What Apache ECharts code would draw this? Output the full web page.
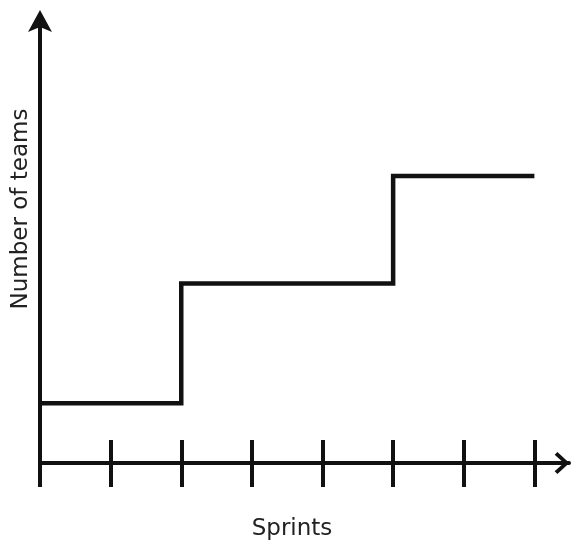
<!DOCTYPE html>
<html>
<head>
<meta charset="utf-8">
<script src="https://cdn.jsdelivr.net/npm/echarts@6/dist/echarts.min.js"></script>
<style>
html,body{margin:0;padding:0;background:#fff;}
#chart{width:572px;height:545px;}
</style>
</head>
<body>
<div id="chart"></div>
<script>
// Data
var sprints = [0, 2, 5, 7];           // x positions where the level changes (and end)
var teams = [1, 3, 4.8, 4.8];         // number of teams (relative levels)
var tickValuesAbove = [1, 2, 3, 4, 5, 6, 7];
var tickValuesBelow = [0, 1, 2, 3, 4, 5, 6, 7];
var xTitle = 'Sprints';
var yTitle = 'Number of teams';

var ink = '#111';
var chevron = 'path://M0,13 L12,0 L24,13 L21,16 L12,6 L3,16 Z';
var solidArrow = 'path://M12,0 L24,22 L12,17 L0,22 Z';

var chart = echarts.init(document.getElementById('chart'), null, {renderer: 'canvas'});
var xCommon = {
  type: 'value', min: 0, max: 7.49, position: 'bottom',
  axisLabel: {show: false}, splitLine: {show: false}
};
chart.setOption({
  animation: false,
  backgroundColor: '#fff',
  grid: {left: 40, right: 3, top: 21, bottom: 82, containLabel: false},
  xAxis: [
    Object.assign({}, xCommon, {
      axisLine: {show: true, lineStyle: {color: ink, width: 4},
        symbol: ['none', chevron], symbolSize: [22, 15], symbolOffset: [0, -7]},
      axisTick: {show: true, inside: true, length: 23, customValues: tickValuesAbove,
        lineStyle: {color: ink, width: 4}}
    }),
    Object.assign({}, xCommon, {
      axisLine: {show: false},
      axisTick: {show: true, inside: false, length: 24, customValues: tickValuesBelow,
        lineStyle: {color: ink, width: 4}}
    })
  ],
  yAxis: {
    type: 'value', min: 0, max: 7.39,
    axisLine: {show: true, lineStyle: {color: ink, width: 4},
      symbol: ['none', solidArrow], symbolSize: [25, 22], symbolOffset: [0, 0]},
    axisTick: {show: false}, axisLabel: {show: false}, splitLine: {show: false}
  },
  series: [{
    type: 'line', step: 'end', xAxisIndex: 0, yAxisIndex: 0,
    data: sprints.map(function (s, i) { return [s, teams[i]]; }),
    symbol: 'none', clip: false,
    lineStyle: {color: ink, width: 4.5, join: 'miter', cap: 'butt'}
  }],
  graphic: [
    {type: 'text', x: 292, y: 529, style: {text: xTitle, fontFamily: 'DejaVu Sans', fontSize: 23,
      fill: '#222', textAlign: 'center', textVerticalAlign: 'middle'}},
    {type: 'text', x: 21, y: 209, rotation: Math.PI / 2, style: {text: yTitle, fontFamily: 'DejaVu Sans', fontSize: 23,
      fill: '#222', textAlign: 'center', textVerticalAlign: 'middle'}}
  ]
});
</script>
</body>
</html>
